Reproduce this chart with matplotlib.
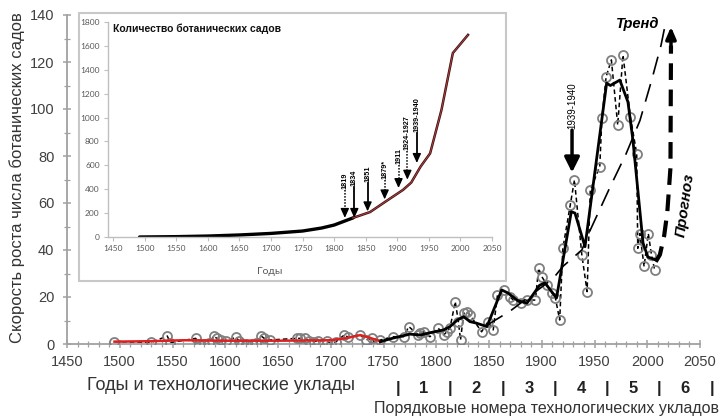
import matplotlib
matplotlib.use('Agg')
import matplotlib.pyplot as plt
from matplotlib.patches import Rectangle
from matplotlib.ticker import MultipleLocator
from matplotlib import font_manager

# ---------------- data ----------------
raw_years = [1495, 1530, 1545, 1548, 1572, 1575, 1580, 1585, 1589, 1592, 1596, 1601,
             1610, 1613, 1616, 1620, 1625, 1629, 1634, 1637, 1642, 1668, 1671, 1676,
             1679, 1684, 1688, 1696, 1700, 1705, 1713, 1716, 1728, 1733, 1739, 1742,
             1747, 1759, 1769, 1774, 1783, 1785, 1788, 1794, 1802, 1807, 1810, 1813,
             1818, 1821, 1823, 1826, 1829, 1832, 1843, 1849, 1854, 1858, 1864, 1870,
             1873, 1880, 1886, 1894, 1897, 1900, 1905, 1910, 1913, 1917, 1920, 1927,
             1931, 1938, 1943, 1946, 1955, 1957, 1961, 1966, 1972, 1977, 1984, 1990,
             1991, 1993, 1997, 2001, 2004, 2007]
raw_vals = [1.0, 0.7, 3.4, 0.6, 2.4, 0.0, 0.0, 0.3, 3.4, 2.4, 1.7, 1.4,
            2.8, 1.4, 0.0, 0.0, 0.0, 0.3, 3.4, 2.4, 1.7, 2.4, 2.4, 2.4,
            1.4, 1.0, 1.4, 1.4, 0.0, 1.0, 3.9, 3.0, 3.9, 1.7, 2.4, 0.3,
            1.7, 3.1, 3.1, 7.4, 3.8, 4.5, 5.2, 3.1, 6.7, 3.8, 5.2, 6.7,
            18.0, 9.5, 1.7, 13.0, 13.8, 12.3, 5.2, 9.5, 6.0, 20.8, 23.0, 20.1,
            18.7, 17.3, 18.7, 18.7, 32.2, 28.7, 25.1, 21.6, 19.4, 10.2, 40.7, 59.1,
            69.8, 37.9, 22.3, 65.5, 75.5, 96.0, 113.7, 120.9, 93.2, 123.0, 96.7, 81.0,
            40.7, 47.0, 33.0, 47.0, 38.0, 31.5]

red_years = [1495, 1530, 1560, 1600, 1650, 1700, 1715, 1728, 1738, 1748]
red_vals = [1.0, 1.2, 1.6, 1.4, 1.4, 1.6, 2.5, 3.8, 2.5, 1.0]

smooth_years = [1747, 1759, 1775, 1785, 1794, 1807, 1813, 1820, 1826, 1832, 1838, 1848,
                1857, 1862, 1868, 1877, 1886, 1898, 1903, 1914, 1928, 1931.5, 1941,
                1961.5, 1965, 1974, 1981.7, 1986.4, 1996, 2000.6, 2009]
smooth_vals = [1.0, 2.5, 4.2, 3.8, 4.8, 6.0, 7.4, 10.2, 11.6, 9.5, 8.9, 7.4,
               17.4, 23.0, 21.7, 18.5, 17.4, 25.0, 26.0, 19.6, 56.3, 55.7, 41.4,
               111.0, 110.0, 112.3, 103.0, 86.8, 43.0, 37.0, 35.7]

trend_years = [1848, 1870, 1892, 1911, 1920, 1938, 1946, 1965, 1980, 1993, 2004, 2013, 2018]
trend_vals = [8, 14, 21.5, 28, 33, 40, 48.5, 67, 81, 95, 112, 127, 138]

forecast_years = [2008, 2012, 2016, 2019, 2022, 2022.5]
forecast_vals = [35, 38, 46, 56, 75, 127]
forecast_tip = 135

era_bounds = [1764, 1813, 1863, 1913, 1962, 2011, 2061]
era_labels = ['1', '2', '3', '4', '5', '6']

main_xticks = list(range(1450, 2051, 50))
main_yticks = list(range(0, 141, 20))

inset_years = [1492, 1550, 1600, 1650, 1700, 1750, 1780, 1800, 1830, 1857, 1881,
               1909, 1922, 1937, 1952, 1970, 1988, 2012]
inset_vals = [0, 3, 8, 17, 30, 50, 75, 100, 160, 209, 295,
              394, 455, 590, 700, 1064, 1540, 1692]
inset_split = 1830
inset_xticks = list(range(1450, 2051, 50))
inset_yticks = list(range(0, 1801, 200))

mark_labels = ['1819', '1834', '1851', '1879*', '1911', '1924-1927', '1939-1940']
mark_x = [1817, 1832, 1853, 1880, 1902, 1916, 1931]
mark_top = [390, 420, 450, 480, 600, 720, 870]
mark_tip = [160, 160, 215, 315, 410, 480, 620]
mark_solid = [False, True, True, False, False, False, True]

main_mark = '1939-1940'
main_mark_x = 1928.7
main_mark_top = 91
main_mark_tip = 73


# ---------------- fonts ----------------
def have(name):
    try:
        font_manager.findfont(font_manager.FontProperties(family=name),
                              fallback_to_default=False)
        return True
    except Exception:
        return False

SANS = 'Liberation Sans' if have('Liberation Sans') else 'DejaVu Sans'
NARROW = 'Liberation Sans Narrow' if have('Liberation Sans Narrow') else None
INSET = 'Lato' if have('Lato') else SANS
plt.rcParams['font.family'] = [SANS, 'DejaVu Sans']

# ---------------- figure ----------------
W, H = 721, 416
fig = plt.figure(figsize=(W / 100, H / 100), dpi=100)

def fx(px):
    return px / W

def fy(py):
    return 1 - py / H

ax = fig.add_axes([fx(67), fy(344), (700 - 67) / W, (344 - 15) / H])
ax.set_xlim(1450, 2050)
ax.set_ylim(0, 140)

ax.plot(raw_years, raw_vals, color='k', lw=1.1, ls=(0, (3, 2)), zorder=2)
ax.plot(raw_years, raw_vals, ls='none', marker='o', ms=6.5, mfc='none',
        mec='#808080', mew=1.3, zorder=3)
ax.plot(red_years, red_vals, color='#e02020', lw=1.8, zorder=4)
ax.plot(smooth_years, smooth_vals, color='k', lw=2.0, zorder=5,
        solid_joinstyle='round')
ax.plot(trend_years, trend_vals, color='k', lw=1.2, ls=(0, (11, 6)), zorder=4)
ax.plot(forecast_years, forecast_vals, color='k', lw=3.0, ls=(0, (4, 2.3)), zorder=4)
ax.annotate('', xy=(forecast_years[-1], forecast_tip),
            xytext=(forecast_years[-1], forecast_vals[-1]),
            arrowprops=dict(arrowstyle='-|>,head_length=0.7,head_width=0.3',
                            color='k', lw=2.5, shrinkA=0, shrinkB=0),
            annotation_clip=False)

ax.text(1991, 136, 'Тренд', ha='center', va='center', fontsize=10.5,
        fontweight='bold', fontstyle='italic', zorder=6)
ax.text(2036.5, 59, 'Прогноз', ha='center', va='center', rotation=82,
        fontsize=11, fontweight='bold', fontstyle='italic', zorder=6)

nfam = [NARROW, SANS] if NARROW else [SANS]
ax.text(main_mark_x, main_mark_top + 0.5, main_mark, rotation=90, ha='center',
        va='bottom', fontsize=7, family=nfam, zorder=6)
ax.annotate('', xy=(main_mark_x, main_mark_tip), xytext=(main_mark_x, main_mark_top),
            arrowprops=dict(arrowstyle='-|>,head_length=0.9,head_width=0.45',
                            color='k', lw=2.5, shrinkA=0, shrinkB=0))

ax.set_xticks(main_xticks)
ax.set_yticks(main_yticks)
ax.xaxis.set_minor_locator(MultipleLocator(10))
ax.yaxis.set_minor_locator(MultipleLocator(10))
for s in ['top', 'right']:
    ax.spines[s].set_visible(False)
for s in ['left', 'bottom']:
    ax.spines[s].set_color('#a0a0a0')
    ax.spines[s].set_linewidth(1.3)
ax.tick_params(which='major', direction='inout', length=6, width=1.1,
               color='#a0a0a0', labelsize=10.5, labelcolor='#404040')
ax.tick_params(which='minor', direction='inout', length=4, width=0.9,
               color='#a0a0a0')
ax.tick_params(axis='x', pad=5)
ax.tick_params(axis='y', pad=6)
ax.patch.set_alpha(0)

fig.text(fx(17), fy(178), 'Скорость роста числа ботанических садов', rotation=90,
         ha='center', va='center', fontsize=12, color='#333333')
fig.text(fx(221), fy(385), 'Годы и технологические уклады', ha='center',
         va='center', fontsize=13, color='#333333')

era_y = -0.134
for b in era_bounds:
    ax.text(b, era_y, '|', transform=ax.get_xaxis_transform(), ha='center',
            va='center', fontsize=12, fontweight='bold', family=nfam,
            color='#222222', clip_on=False)
for i, lab in enumerate(era_labels):
    mid = (era_bounds[i] + era_bounds[i + 1]) / 2
    ax.text(mid, era_y, lab, transform=ax.get_xaxis_transform(), ha='center',
            va='center', fontsize=12, fontweight='bold', family=nfam,
            color='#222222', clip_on=False)
fig.text(fx(719), fy(409), 'Порядковые номера технологических укладов', ha='right',
         va='center', fontsize=13.5 if NARROW else 11.5, family=nfam,
         color='#333333')

# ---------------- inset ----------------
fig.add_artist(Rectangle((fx(79), fy(281)), (506 - 79) / W, (281 - 13) / H,
                         transform=fig.transFigure, fc='white', ec='#c8c8c8',
                         lw=1.5, zorder=1))
axi = fig.add_axes([fx(108), fy(237), (492 - 108) / W, (237 - 22) / H])
axi.set_zorder(2)
axi.patch.set_alpha(0)
axi.set_xlim(1442, 2050)
axi.set_ylim(0, 1800)

early_x = [y for y in inset_years if y <= inset_split]
early_v = [v for y, v in zip(inset_years, inset_vals) if y <= inset_split]
late_x = [y for y in inset_years if y >= inset_split]
late_v = [v for y, v in zip(inset_years, inset_vals) if y >= inset_split]
axi.plot(early_x, early_v, color='k', lw=2.4, solid_capstyle='round')
axi.plot(late_x, late_v, color='#3a1010', lw=1.8)
axi.plot(late_x, late_v, color='#b04040', lw=0.7)

head = 60
for lab, x, top, tip, solid in zip(mark_labels, mark_x, mark_top, mark_tip, mark_solid):
    axi.text(x, top + 8, lab, rotation=90, ha='center', va='bottom', fontsize=5.2,
             fontweight='bold', family=nfam)
    axi.plot([x, x], [top, tip + head * 0.6], color='k',
             lw=1.3 if solid else 1.1, ls='-' if solid else (0, (1, 1)))
    axi.annotate('', xy=(x, tip), xytext=(x, tip + head),
                 arrowprops=dict(arrowstyle='-|>,head_length=0.55,head_width=0.25',
                                 color='k', lw=1.0, shrinkA=0, shrinkB=0))

axi.set_xticks(inset_xticks)
axi.set_yticks(inset_yticks)
for s in ['top', 'right']:
    axi.spines[s].set_visible(False)
for s in ['left', 'bottom']:
    axi.spines[s].set_color('#bfbfbf')
    axi.spines[s].set_linewidth(1.0)
axi.tick_params(direction='out', length=3, width=0.8, color='#bfbfbf',
                labelsize=6, labelcolor='#595959', pad=3)
for t in axi.get_xticklabels() + axi.get_yticklabels():
    t.set_family(INSET)

fig.text(fx(113), fy(29), 'Количество ботанических садов', ha='left', va='center',
         fontsize=7.5, fontweight='bold', color='#111111')
fig.text(fx(270), fy(271), 'Годы', ha='center', va='center', fontsize=7.5,
         color='#595959', family=INSET)

fig.savefig('out.png', dpi=100)
